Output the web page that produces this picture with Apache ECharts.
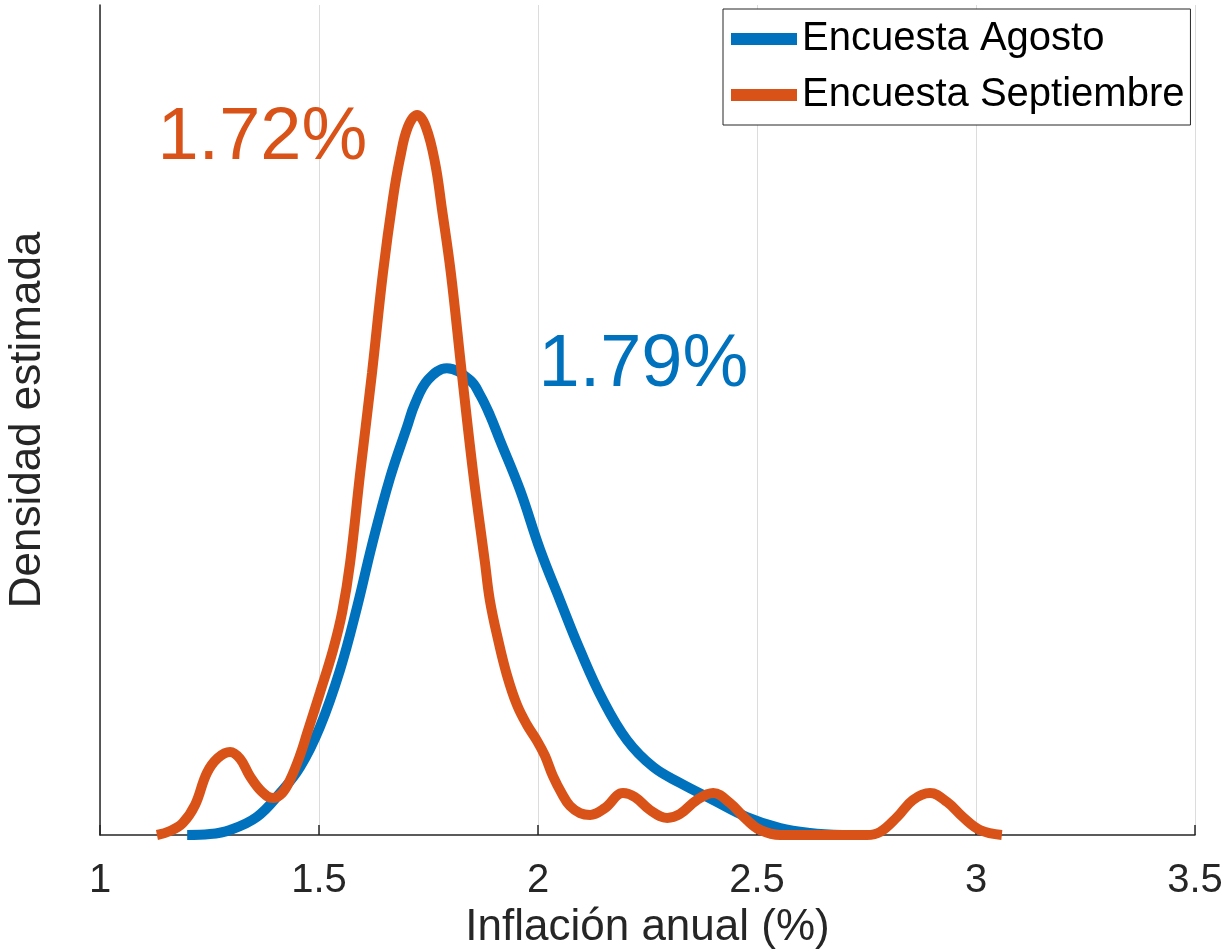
<!DOCTYPE html>
<html>
<head>
<meta charset="utf-8">
<script src="https://cdn.jsdelivr.net/npm/echarts@6/dist/echarts.min.js"></script>
<style>
html,body{margin:0;padding:0;background:#fff;}
#chart{width:1222px;height:951px;}
</style>
</head>
<body>
<div id="chart"></div>
<script>
// Encuesta Agosto (blue) kernel density estimate
const agostoX = [1.199,1.251,1.297,1.358,1.411,1.457,1.502,1.548,1.587,1.621,1.662,1.701,1.719,1.749,1.792,1.845,1.868,1.890,1.913,1.959,2.005,2.050,2.096,2.148,2.203,2.263,2.324,2.400,2.477,2.553,2.621,2.696];
const agostoY = [0.000,0.004,0.022,0.078,0.182,0.295,0.468,0.716,0.989,1.258,1.548,1.770,1.870,1.975,2.025,1.973,1.908,1.822,1.713,1.496,1.236,1.019,0.802,0.586,0.412,0.295,0.226,0.152,0.078,0.030,0.009,0.000];

// Encuesta Septiembre (orange) kernel density estimate
const sepX = [1.130,1.160,1.189,1.217,1.244,1.269,1.297,1.320,1.342,1.370,1.395,1.416,1.434,1.457,1.473,1.502,1.532,1.553,1.571,1.594,1.621,1.646,1.669,1.685,1.703,1.724,1.744,1.765,1.781,1.801,1.826,1.852,1.879,1.890,1.909,1.929,1.952,1.975,1.998,2.016,2.034,2.055,2.073,2.096,2.119,2.153,2.194,2.221,2.256,2.295,2.324,2.363,2.400,2.438,2.477,2.507,2.553,2.651,2.751,2.781,2.820,2.856,2.895,2.934,2.970,3.009,3.059];
const sepY = [0.000,0.017,0.052,0.130,0.269,0.334,0.360,0.330,0.256,0.187,0.160,0.182,0.239,0.347,0.442,0.616,0.802,0.967,1.180,1.570,2.004,2.438,2.763,2.936,3.071,3.123,3.071,2.915,2.711,2.438,2.004,1.570,1.180,1.019,0.846,0.694,0.564,0.477,0.408,0.343,0.256,0.178,0.126,0.095,0.087,0.117,0.182,0.165,0.108,0.074,0.091,0.152,0.182,0.139,0.065,0.022,0.000,0.000,0.000,0.013,0.078,0.152,0.182,0.143,0.078,0.022,0.000];

const seriesNames = ['Encuesta Agosto', 'Encuesta Septiembre'];
const xTicks = {min: 1, max: 3.5, interval: 0.5};
const medianLabels = ['1.79%', '1.72%'];
const labelAnchors = [[2.0, 2.035], [1.13, 3.02]];

const BLUE = '#0072BD', ORANGE = '#D95319', AX = '#262626';
const FONT = 'Liberation Sans, Arial, Helvetica, sans-serif';

function pairs(xs, ys){ return xs.map((x,i)=>[x, ys[i]]); }

const chart = echarts.init(document.getElementById('chart'), null, {renderer:'canvas'});
chart.setOption({
  animation: false,
  backgroundColor: '#fff',
  textStyle: {fontFamily: FONT},
  grid: {left: 100, right: 27, top: 5, bottom: 116, containLabel: false, outerBoundsMode: 'none'},
  legend: {
    data: seriesNames,
    orient: 'vertical',
    left: 723, top: 9,
    padding: [10, 6, 10, 8],
    itemGap: 16,
    itemWidth: 66, itemHeight: 12,
    icon: 'rect',
    backgroundColor: '#fff',
    borderColor: AX, borderWidth: 1, borderRadius: 0,
    textStyle: {fontSize: 40, color: '#000', fontFamily: FONT}
  },
  xAxis: {
    type: 'value',
    min: xTicks.min, max: xTicks.max, interval: xTicks.interval,
    name: 'Inflación anual (%)',
    nameLocation: 'middle', nameGap: 67,
    nameTextStyle: {fontSize: 44, color: AX, fontFamily: FONT},
    axisLine: {show: true, onZero: false, lineStyle: {color: AX, width: 1.5}},
    axisTick: {show: true, inside: true, length: 10, lineStyle: {color: AX, width: 1.5}},
    axisLabel: {fontSize: 40, color: AX, margin: 26, fontFamily: FONT},
    splitLine: {show: true, lineStyle: {color: '#dcdcdc', width: 1}}
  },
  yAxis: {
    type: 'value', min: 0, max: 3.6,
    name: 'Densidad estimada',
    nameLocation: 'middle', nameGap: 50,
    nameTextStyle: {fontSize: 44, color: AX, fontFamily: FONT},
    axisLine: {show: true, lineStyle: {color: AX, width: 1.5}},
    axisTick: {show: false},
    axisLabel: {show: false},
    splitLine: {show: false}
  },
  series: [
    {
      name: seriesNames[0], type: 'line', data: pairs(agostoX, agostoY),
      showSymbol: false, smooth: 0.4,
      lineStyle: {color: BLUE, width: 10}, itemStyle: {color: BLUE},
      markPoint: {
        symbol: 'circle', symbolSize: 1, itemStyle: {color: 'rgba(0,0,0,0)'},
        label: {show: true, position: 'right', distance: 0, formatter: medianLabels[0], fontSize: 74, color: BLUE, fontFamily: FONT},
        data: [{coord: labelAnchors[0]}]
      }
    },
    {
      name: seriesNames[1], type: 'line', data: pairs(sepX, sepY),
      showSymbol: false, smooth: 0.4,
      lineStyle: {color: ORANGE, width: 10}, itemStyle: {color: ORANGE},
      markPoint: {
        symbol: 'circle', symbolSize: 1, itemStyle: {color: 'rgba(0,0,0,0)'},
        label: {show: true, position: 'right', distance: 0, formatter: medianLabels[1], fontSize: 74, color: ORANGE, fontFamily: FONT},
        data: [{coord: labelAnchors[1]}]
      }
    }
  ]
});
</script>
</body>
</html>
